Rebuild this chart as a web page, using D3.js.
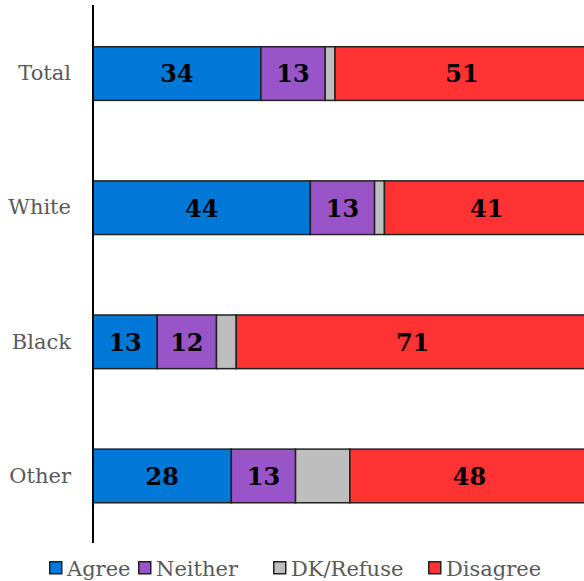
<!DOCTYPE html>
<html><head><meta charset="utf-8">
<script src="https://cdn.jsdelivr.net/npm/d3@7"></script>
<style>body{margin:0;background:#fff}svg{display:block}</style>
</head><body>
<svg id="c" width="584" height="581"></svg>
<script>
const categories = ["Total","White","Black","Other"];
const seriesNames = ["Agree","Neither","DK/Refuse","Disagree"];
const agree = [34,44,13,28];
const neither = [13,13,12,13];
const dk = [2,2,4,11];
const disagree = [51,41,71,48];
const colors = ["#0078d7","#9954c8","#bebebe","#ff3333"];
const showLabel = [true,true,false,true];

const font = "'DejaVu Serif', 'Liberation Serif', serif";
const svg = d3.select("#c");
const x = d3.scaleLinear().domain([0,100]).range([93,587]);
const y = d3.scaleBand().domain(categories).range([6.5,543]).paddingInner(0.6).paddingOuter(0.3);

const rows = categories.map((c,i)=>({cat:c, vals:[agree[i],neither[i],dk[i],disagree[i]]}));
const stackData = rows.map(r=>{ const o={cat:r.cat}; seriesNames.forEach((s,j)=>o[s]=r.vals[j]); return o;});
const stack = d3.stack().keys(seriesNames)(stackData);

stack.forEach((layer,j)=>{
  const g = svg.append("g");
  g.selectAll("rect").data(layer).join("rect")
    .attr("x",d=>x(d[0])).attr("y",d=>y(d.data.cat))
    .attr("width",d=>x(d[1])-x(d[0])).attr("height",y.bandwidth())
    .attr("fill",colors[j]).attr("stroke","#222").attr("stroke-width",1.5);
  if(showLabel[j]){
    g.selectAll("text").data(layer).join("text")
      .attr("x",d=>(x(d[0])+Math.min(x(d[1]),587))/2 + (j===3? 1:0))
      .attr("y",d=>y(d.data.cat)+y.bandwidth()/2)
      .attr("dy","0.37em").attr("text-anchor","middle")
      .attr("font-family",font).attr("font-weight","bold").attr("font-size",24)
      .attr("fill","#000").text(d=>d[1]-d[0]);
  }
});

// axis
const yAxis = svg.append("g").attr("transform","translate(93,0)")
  .call(d3.axisLeft(y).tickSize(0).tickPadding(22));
yAxis.select(".domain").attr("d","M0,5V543").attr("stroke","#000").attr("stroke-width",2);
yAxis.selectAll("text").attr("font-family",font).attr("font-size",21).attr("fill","#595959");

// legend
const legX = [49,138,273,428];
const leg = svg.append("g");
seriesNames.forEach((s,j)=>{
  leg.append("rect").attr("x",legX[j]+0.75).attr("y",561.75).attr("width",12).attr("height",12)
    .attr("fill",colors[j]).attr("stroke","#222").attr("stroke-width",1.5);
  leg.append("text").attr("x",legX[j]+18).attr("y",568).attr("dy","0.36em")
    .attr("font-family",font).attr("font-size",21).attr("fill","#595959").text(s);
});
</script>
</body></html>
